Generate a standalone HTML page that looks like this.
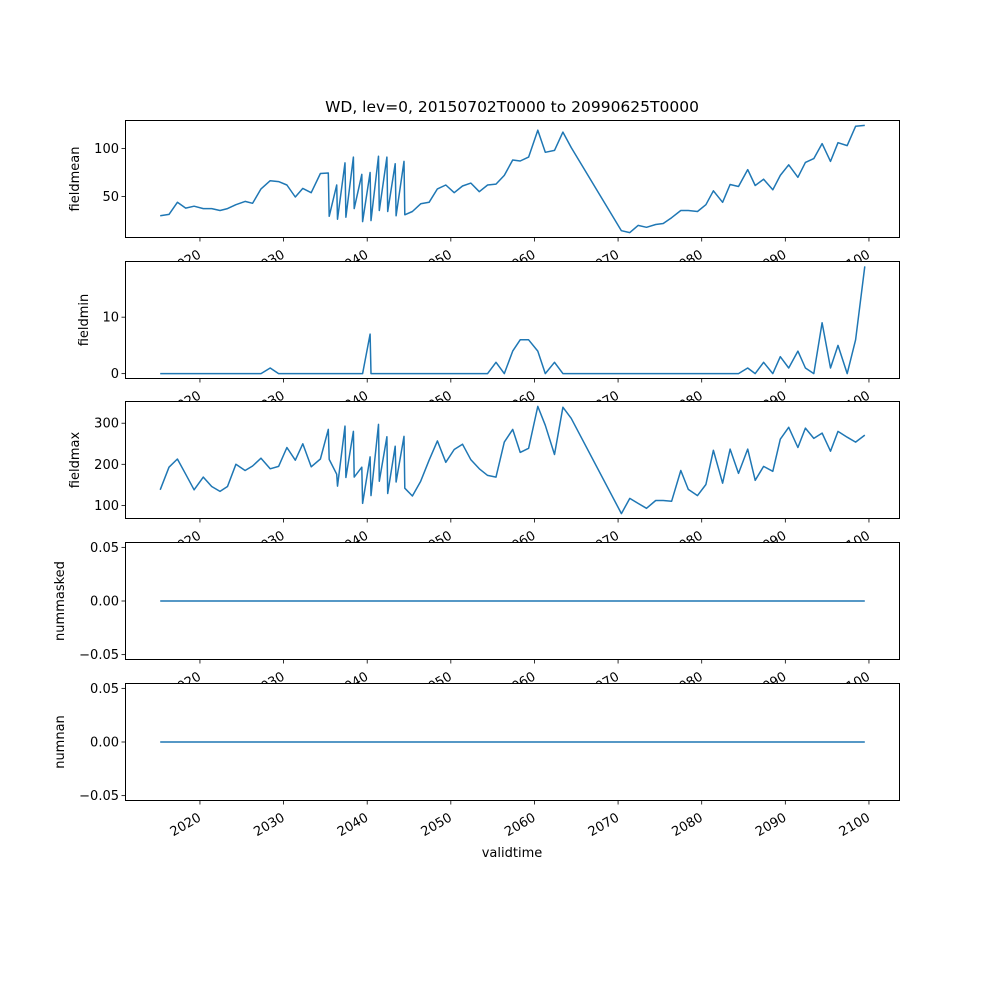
<!DOCTYPE html>
<html><head><meta charset="utf-8"><style>
body{margin:0;background:#fff}
svg text{font-family:"DejaVu Sans","Liberation Sans",sans-serif;font-size:13px;fill:#000}
</style></head><body>
<svg id="fig" width="1000" height="1000" xmlns="http://www.w3.org/2000/svg">
<rect width="1000" height="1000" fill="#fff"/>
<text x="512" y="112" text-anchor="middle" style="font-size:15.5px">WD, lev=0, 20150702T0000 to 20990625T0000</text>
<text x="512" y="857" text-anchor="middle">validtime</text>
</svg>
<script>
const times=[2015.25,2016.3,2017.3,2018.3,2019.3,2020.4,2021.4,2022.4,2023.3,2024.3,2025.4,2026.3,2027.3,2028.4,2029.4,2030.4,2031.4,2032.3,2033.3,2034.4,
2035.35,2035.45,2036.35,2036.45,2037.35,2037.45,2038.35,2038.45,2039.35,2039.45,2040.35,2040.45,2041.35,2041.45,2042.35,2042.45,2043.35,2043.45,2044.4,2044.5,
2045.4,2046.4,2047.4,2048.4,2049.4,2050.4,2051.4,2052.4,2053.4,2054.4,2055.4,2056.4,2057.4,
2058.3,2059.3,2060.4,2061.3,2062.4,2063.4,2064.4,
2070.4,2071.4,2072.4,2073.4,2074.5,2075.4,2076.4,2077.5,2078.4,2079.5,2080.5,2081.4,2082.5,2083.4,2084.4,2085.5,2086.4,2087.4,2088.5,2089.4,2090.4,2091.5,2092.4,2093.4,2094.4,2095.4,2096.3,2097.4,2098.4,2099.5];
const fieldmean=[30,31.5,44,38,40,37.5,37.5,35.5,37.5,41.5,45,43,58,66.5,65.5,62,49.5,58.5,54,74,
74.5,29.5,62,26.5,85,28.5,91,37.5,73,24,75,25,92,35.5,91,34.5,84,30,86.5,31,
34.5,42.5,44,58,62,54,61,64,55,62,63,72,88,
87,91,119,96,98,117,101,
14.5,12.5,20,18,21,22,28,35.5,35.5,34.5,41.5,56,44,62.5,60.5,78,61.5,68,57,72,83,70,85.5,89.5,105,86.5,106,103,123,124];
const fieldmin=[0,0,0,0,0,0,0,0,0,0,0,0,0,1,0,0,0,0,0,0,
0,0,0,0,0,0,0,0,0,0,7,0,0,0,0,0,0,0,0,0,
0,0,0,0,0,0,0,0,0,0,2,0,4,
6,6,4,0,2,0,0,
0,0,0,0,0,0,0,0,0,0,0,0,0,0,0,1,0,2,0,3,1,4,1,0,9,1,5,0,6,19];
const fieldmax=[138,193,213,176,138,169,146,134,146,200,185,196,215,189,195,241,210,250,194,213,
285,212,176,147,293,168,280,169,193,105,218,124,297,159,267,129,244,157,268,142,
123,159,210,257,205,236,249,211,189,173,169,254,285,
229,239,341,295,224,339,312,
80,117,105,93,112,112,110,185,139,124,151,234,154,237,178,237,161,195,183,261,290,241,288,263,276,232,280,266,254,271];
const nummasked=times.map(()=>0);
const numnan=times.map(()=>0);
const xTicks=[2020,2030,2040,2050,2060,2070,2080,2090,2100];
const panels=[
 {name:'fieldmean',vals:fieldmean,ticks:[50,100],labels:['50','100'],top:120,lx:79},
 {name:'fieldmin',vals:fieldmin,ticks:[0,10],labels:['0','10'],top:261,lx:88},
 {name:'fieldmax',vals:fieldmax,ticks:[100,200,300],labels:['100','200','300'],top:401,lx:79},
 {name:'nummasked',vals:nummasked,ticks:[-0.05,0,0.05],labels:['−0.05','0.00','0.05'],top:542,lx:64,flat:true},
 {name:'numnan',vals:numnan,ticks:[-0.05,0,0.05],labels:['−0.05','0.00','0.05'],top:683,lx:64,flat:true}
];
const NS='http://www.w3.org/2000/svg';
const svg=document.getElementById('fig');
const L=125,R=900,H=118;
const tmin=Math.min(...times),tmax=Math.max(...times),tm=(tmax-tmin)*0.05;
const X=t=>L+(t-tmin+tm)/(tmax-tmin+2*tm)*(R-L);
function mk(tag,attrs,parent){const e=document.createElementNS(NS,tag);for(const k in attrs)e.setAttribute(k,attrs[k]);(parent||svg).appendChild(e);return e;}
panels.forEach(p=>{
 const g=mk('g',{});
 
 
 let lo=Math.min(...p.vals),hi=Math.max(...p.vals);
 if(p.flat){lo=-0.055;hi=0.055;}else{const m=(hi-lo)*0.05;lo-=m;hi+=m;}
 const Y=v=>p.top+H-(v-lo)/(hi-lo)*H;
 const bg=mk('rect',{x:L,y:p.top,width:R-L,height:H,fill:'#fff'},g);
 
 
 const d=times.map((t,i)=>(i?'L':'M')+X(t).toFixed(1)+','+Y(p.vals[i]).toFixed(1)).join('');
 const line=mk('path',{d:d,fill:'none',stroke:'#1f77b4','stroke-width':1.5,'stroke-linejoin':'round'},g);
 
 
 const fr=mk('rect',{x:L+0.5,y:p.top+0.5,width:R-L-1,height:H-1,fill:'none',stroke:'#000','stroke-width':1},g);
 
 
 p.ticks.forEach((v,i)=>{
  const y=Y(v);
  mk('line',{x1:L-3.5,x2:L,y1:y,y2:y,stroke:'#000','stroke-width':0.8},g);
  const tx=mk('text',{x:L-6,y:y+4.5,'text-anchor':'end'},g);
  tx.textContent=p.labels[i];
  
  
 });
 xTicks.forEach(t=>{
  const x=X(t),yb=p.top+H;
  mk('line',{x1:x,x2:x,y1:yb,y2:yb+3.5,stroke:'#000','stroke-width':0.8},g);
  const ax=x+2,ay=yb+19;
  const tx=mk('text',{x:ax,y:ay,'text-anchor':'end',transform:'rotate(-30 '+ax+' '+ay+')'},g);
  tx.textContent=String(t);
  
  
 });
 const yl=mk('text',{x:p.lx,y:p.top+H/2,'text-anchor':'middle',transform:'rotate(-90 '+p.lx+' '+(p.top+H/2)+')'},g);
 yl.textContent=p.name;
 
 
});
</script>
</body></html>
